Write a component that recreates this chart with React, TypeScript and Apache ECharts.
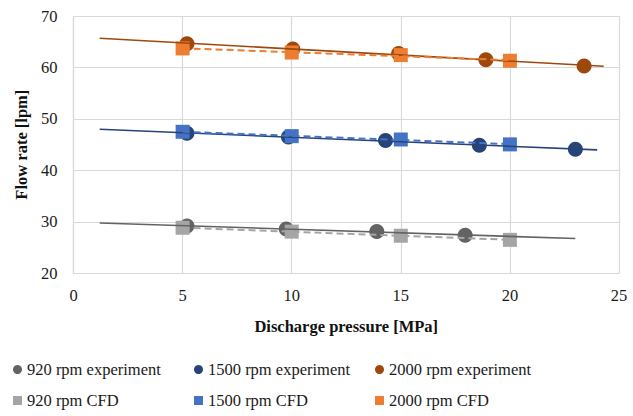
import React, { useEffect, useRef } from "react";
import * as echarts from "echarts";

// Experiment data (pressure [MPa], flow rate [lpm])
const exp920X = [5.2, 9.75, 13.9, 17.95];
const exp920Y = [29.2, 28.6, 28.1, 27.4];
const exp1500X = [5.2, 9.85, 14.3, 18.6, 23.0];
const exp1500Y = [47.2, 46.5, 45.8, 44.9, 44.1];
const exp2000X = [5.2, 10.05, 14.9, 18.9, 23.4];
const exp2000Y = [64.6, 63.6, 62.7, 61.5, 60.3];

// CFD data
const cfdX = [5, 10, 15, 20];
const cfd920Y = [28.85, 28.1, 27.3, 26.5];
const cfd1500Y = [47.5, 46.65, 46.0, 45.05];
const cfd2000Y = [63.7, 62.9, 62.4, 61.3];

// Trendline extents (x start / end)
const trend920Range = [1.2, 23.0];
const trend1500Range = [1.2, 24.0];
const trend2000Range = [1.2, 24.3];
const trendCfdRange = [5, 20];

const seriesNames = [
  "920 rpm experiment",
  "1500 rpm experiment",
  "2000 rpm experiment",
  "920 rpm CFD",
  "1500 rpm CFD",
  "2000 rpm CFD",
];

const C = {
  e920: "#636363",
  e1500: "#264478",
  e2000: "#9E480E",
  c920: "#A5A5A5",
  c1500: "#4472C4",
  c2000: "#ED7D31",
};

const FONT = "Liberation Serif";

function zip(xs: number[], ys: number[]) {
  return xs.map((x, i) => [x, ys[i]]);
}

function trend(xs: number[], ys: number[], range: number[]) {
  const n = xs.length;
  const mx = xs.reduce((a, b) => a + b, 0) / n;
  const my = ys.reduce((a, b) => a + b, 0) / n;
  let sxy = 0;
  let sxx = 0;
  for (let i = 0; i < n; i++) {
    sxy += (xs[i] - mx) * (ys[i] - my);
    sxx += (xs[i] - mx) * (xs[i] - mx);
  }
  const b = sxy / sxx;
  const a = my - b * mx;
  return range.map((x) => [x, a + b * x]);
}

export default function App() {
  const ref = useRef<HTMLDivElement>(null);
  useEffect(() => {
    if (!ref.current) return;
    const chart = echarts.init(ref.current, undefined, { renderer: "svg" });
    const scatter = (name: string, data: number[][], color: string, symbol: string, size: number, z: number) => ({
      name,
      type: "scatter",
      data,
      symbol,
      symbolSize: size,
      itemStyle: { color, opacity: 1 },
      z,
    });
    const line = (data: number[][], color: string, dashed: boolean) => ({
      type: "line",
      data,
      showSymbol: false,
      symbol: "none",
      silent: true,
      lineStyle: dashed
        ? { color, width: 2, type: [7, 4] }
        : { color, width: 1.6 },
      z: 10,
    });
    const legendText = { fontFamily: FONT, fontSize: 16.5, color: "#1a1a1a", lineHeight: 17 };
    const legendBase = {
      orient: "vertical",
      top: 361,
      itemWidth: 9,
      itemHeight: 9,
      itemGap: 14,
      textStyle: legendText,
      padding: 0,
    };
    chart.setOption({
      animation: false,
      backgroundColor: "#ffffff",
      grid: { left: 73.5, right: 14, top: 16, bottom: 142.7, containLabel: false },
      xAxis: {
        type: "value",
        min: 0,
        max: 25,
        interval: 5,
        name: "Discharge pressure [MPa]",
        nameLocation: "middle",
        nameGap: 45,
        nameTextStyle: { fontFamily: FONT, fontSize: 16.5, fontWeight: "bold", color: "#111" },
        axisLine: { show: true, lineStyle: { color: "#d9d9d9", width: 1.2 } },
        axisTick: { show: false },
        axisLabel: { fontFamily: FONT, fontSize: 16.5, color: "#1a1a1a", margin: 14 },
        splitLine: { show: true, lineStyle: { color: "#d9d9d9", width: 1.2 } },
      },
      yAxis: {
        type: "value",
        min: 20,
        max: 70,
        interval: 10,
        name: "Flow rate [lpm]",
        nameLocation: "middle",
        nameGap: 44,
        nameRotate: 90,
        nameTextStyle: { fontFamily: FONT, fontSize: 16.5, fontWeight: "bold", color: "#111" },
        axisLine: { show: true, lineStyle: { color: "#d9d9d9", width: 1.2 } },
        axisTick: { show: false },
        axisLabel: { fontFamily: FONT, fontSize: 16.5, color: "#1a1a1a", margin: 16 },
        splitLine: { show: true, lineStyle: { color: "#d9d9d9", width: 1.2 } },
      },
      legend: [
        { ...legendBase, left: 13, data: [
          { name: seriesNames[0], icon: "circle" },
          { name: seriesNames[3], icon: "rect" },
        ] },
        { ...legendBase, left: 194, data: [
          { name: seriesNames[1], icon: "circle" },
          { name: seriesNames[4], icon: "rect" },
        ] },
        { ...legendBase, left: 375, data: [
          { name: seriesNames[2], icon: "circle" },
          { name: seriesNames[5], icon: "rect" },
        ] },
      ],
      series: [
        scatter(seriesNames[0], zip(exp920X, exp920Y), C.e920, "circle", 15, 2),
        scatter(seriesNames[1], zip(exp1500X, exp1500Y), C.e1500, "circle", 15, 2),
        scatter(seriesNames[2], zip(exp2000X, exp2000Y), C.e2000, "circle", 15, 2),
        scatter(seriesNames[3], zip(cfdX, cfd920Y), C.c920, "rect", 14, 3),
        scatter(seriesNames[4], zip(cfdX, cfd1500Y), C.c1500, "rect", 14, 3),
        scatter(seriesNames[5], zip(cfdX, cfd2000Y), C.c2000, "rect", 14, 3),
        line(trend(exp920X, exp920Y, trend920Range), C.e920, false),
        line(trend(exp1500X, exp1500Y, trend1500Range), C.e1500, false),
        line(trend(exp2000X, exp2000Y, trend2000Range), C.e2000, false),
        line(trend(cfdX, cfd920Y, trendCfdRange), C.c920, true),
        line(trend(cfdX, cfd1500Y, trendCfdRange), C.c1500, true),
        line(trend(cfdX, cfd2000Y, trendCfdRange), C.c2000, true),
      ],
    });
    return () => chart.dispose();
  }, []);
  return (
    <div
      ref={ref}
      style={{ position: "fixed", left: 0, top: 0, width: 633, height: 416, background: "#fff" }}
    />
  );
}
